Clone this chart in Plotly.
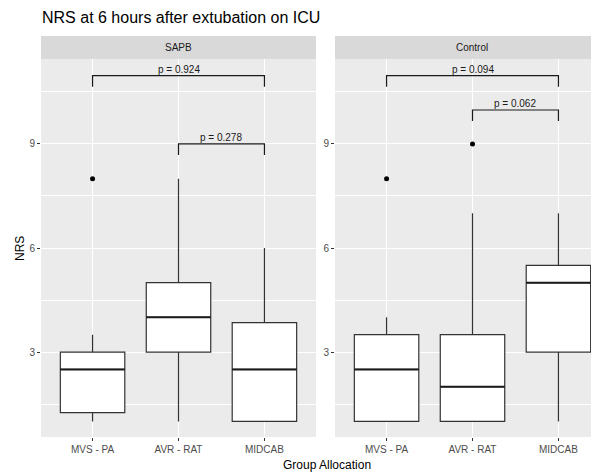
import plotly.graph_objects as go

# ---------------- data ----------------
groups = ["MVS - PA", "AVR - RAT", "MIDCAB"]
group_pos = [1, 2, 3]

sapb_q1 = [1.25, 3.0, 1.0]
sapb_median = [2.5, 4.0, 2.5]
sapb_q3 = [3.0, 5.0, 3.85]
sapb_low = [1.0, 1.0, 1.0]
sapb_high = [3.5, 8.0, 6.0]
sapb_out_group = ["MVS - PA"]
sapb_out_value = [8.0]

control_q1 = [1.0, 1.0, 3.0]
control_median = [2.5, 2.0, 5.0]
control_q3 = [3.5, 3.5, 5.5]
control_low = [1.0, 1.0, 1.0]
control_high = [4.0, 7.0, 7.0]
control_out_group = ["MVS - PA", "AVR - RAT"]
control_out_value = [8.0, 9.0]

sapb_brackets_from = ["MVS - PA", "AVR - RAT"]
sapb_brackets_to = ["MIDCAB", "MIDCAB"]
sapb_brackets_y = [10.97, 9.0]
sapb_brackets_p = ["p = 0.924", "p = 0.278"]

control_brackets_from = ["MVS - PA", "AVR - RAT"]
control_brackets_to = ["MIDCAB", "MIDCAB"]
control_brackets_y = [10.97, 9.98]
control_brackets_p = ["p = 0.094", "p = 0.062"]

y_ticks = [3, 6, 9]
y_minor = [1.5, 4.5, 7.5, 10.5]

# ---------------- layout constants ----------------
OFF = 8  # default page body margin
W, H = 599 - OFF, 474 - OFF
BOX_W = 0.75
TIP = 0.32
FONT = "Liberation Sans, Arial, sans-serif"
LINE = "#333333"

def px_x(p):
    return (p - OFF) / W

def px_y(p):
    return 1 - (p - OFF) / H

pos_of = dict(zip(groups, group_pos))

fig = go.Figure()

panels = [
    ("x", "y", sapb_q1, sapb_median, sapb_q3, sapb_low, sapb_high,
     sapb_out_group, sapb_out_value,
     sapb_brackets_from, sapb_brackets_to, sapb_brackets_y, sapb_brackets_p),
    ("x2", "y2", control_q1, control_median, control_q3, control_low, control_high,
     control_out_group, control_out_value,
     control_brackets_from, control_brackets_to, control_brackets_y, control_brackets_p),
]

for (xa, ya, q1, med, q3, lo, hi, og, ov, bf, bt, by, bp) in panels:
    fig.add_trace(go.Box(
        x=group_pos, q1=q1, median=med, q3=q3, lowerfence=lo, upperfence=hi,
        width=BOX_W, fillcolor="white", line=dict(color=LINE, width=1.2),
        whiskerwidth=0, boxpoints=False, xaxis=xa, yaxis=ya, showlegend=False,
    ))
    # thicker median lines
    for p, m in zip(group_pos, med):
        fig.add_trace(go.Scatter(
            x=[p - BOX_W / 2, p + BOX_W / 2], y=[m, m], mode="lines",
            line=dict(color="#1a1a1a", width=2), xaxis=xa, yaxis=ya,
            showlegend=False, hoverinfo="skip",
        ))
    # outliers
    fig.add_trace(go.Scatter(
        x=[pos_of[g] for g in og], y=ov, mode="markers",
        marker=dict(color="black", size=5), xaxis=xa, yaxis=ya, showlegend=False,
    ))
    # brackets
    for f, t, yy, lab in zip(bf, bt, by, bp):
        x1, x2 = pos_of[f], pos_of[t]
        fig.add_trace(go.Scatter(
            x=[x1, x1, x2, x2], y=[yy - TIP, yy, yy, yy - TIP], mode="lines",
            line=dict(color="#1a1a1a", width=1.2), xaxis=xa, yaxis=ya,
            showlegend=False, hoverinfo="skip",
        ))
        fig.add_annotation(
            x=(x1 + x2) / 2, y=yy, xref=xa, yref=ya, text=lab, showarrow=False,
            yanchor="bottom", yshift=-1, font=dict(family=FONT, size=10, color="#1a1a1a"),
        )

y_range = [0.55, 11.45]
left_dom = [px_x(41), px_x(316)]
right_dom = [px_x(335), 1.0]
y_dom = [px_y(437), px_y(59)]
px_per_unit = (316 - 41) / 3.2
right_hi = 0.4 + (599 - 335) / px_per_unit

common_x = dict(
    tickmode="array", tickvals=group_pos, ticktext=groups,
    showgrid=True, gridcolor="white", gridwidth=1.2, zeroline=False,
    ticks="outside", ticklen=3, tickcolor=LINE, tickwidth=1,
    tickfont=dict(family=FONT, size=10, color="#4D4D4D"),
    showline=False, fixedrange=True,
)
common_y = dict(
    range=y_range, tickmode="array", tickvals=y_ticks,
    showgrid=True, gridcolor="white", gridwidth=1.2, zeroline=False,
    ticks="outside", ticklen=3, tickcolor=LINE, tickwidth=1,
    tickfont=dict(family=FONT, size=10, color="#4D4D4D"),
    minor=dict(tickmode="array", tickvals=y_minor, showgrid=True,
               gridcolor="white", gridwidth=0.6, ticks=""),
    domain=y_dom, showline=False, fixedrange=True,
)

fig.update_layout(
    width=W, height=H, margin=dict(l=0, r=0, t=0, b=0),
    paper_bgcolor="white", plot_bgcolor="#EBEBEB",
    showlegend=False,
    xaxis=dict(domain=left_dom, range=[0.4, 3.6], anchor="y", **common_x),
    xaxis2=dict(domain=right_dom, range=[0.4, right_hi], anchor="y2", **common_x),
    yaxis=dict(anchor="x", **common_y),
    yaxis2=dict(anchor="x2", **common_y),
)

# strips
for dom, lab in [(left_dom, "SAPB"), (right_dom, "Control")]:
    fig.add_shape(type="rect", xref="paper", yref="paper",
                  x0=dom[0], x1=dom[1], y0=px_y(59), y1=px_y(36),
                  fillcolor="#D9D9D9", line=dict(width=0), layer="below")
    full_right = dom[0] + 3.2 * px_per_unit / W
    fig.add_annotation(x=(dom[0] + full_right) / 2, y=px_y(47.5), xref="paper", yref="paper",
                       text=lab, showarrow=False, xanchor="center", yanchor="middle",
                       font=dict(family=FONT, size=10, color="#1A1A1A"))

# title and axis titles
fig.add_annotation(x=px_x(40), y=px_y(17), xref="paper", yref="paper",
                   text="NRS at 6 hours after extubation on ICU", showarrow=False,
                   xanchor="left", yanchor="middle",
                   font=dict(family=FONT, size=16, color="black"))
fig.add_annotation(x=px_x(20), y=px_y(248), xref="paper", yref="paper",
                   text="NRS", showarrow=False, textangle=-90,
                   xanchor="center", yanchor="middle",
                   font=dict(family=FONT, size=12, color="black"))
fig.add_annotation(x=px_x(327), y=px_y(465), xref="paper", yref="paper",
                   text="Group Allocation", showarrow=False,
                   xanchor="center", yanchor="middle",
                   font=dict(family=FONT, size=12, color="black"))

fig.write_html("out.html")
